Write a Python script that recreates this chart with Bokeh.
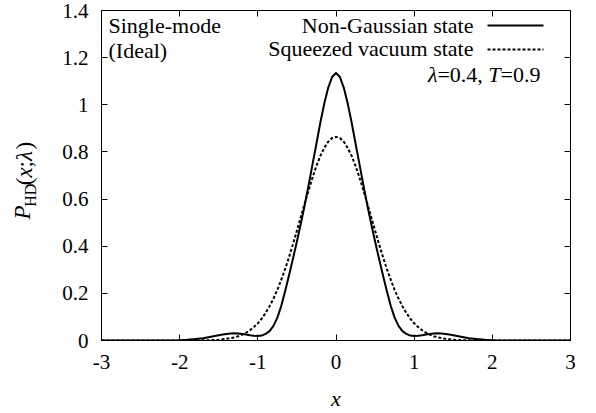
import math
from bokeh.plotting import figure
from bokeh.layouts import row
from bokeh.models import LinearAxis, FixedTicker, Label, Range1d
from bokeh.embed import file_html
from bokeh.resources import INLINE

# ---------------- data ----------------
x_vals = [-3.0, -2.5, -2.2, -2.0, -1.9, -1.8, -1.7, -1.6, -1.5, -1.45, -1.4, -1.35, -1.3,
          -1.25, -1.2, -1.15, -1.1, -1.05, -1.0, -0.95, -0.9, -0.85, -0.8, -0.75, -0.7,
          -0.65, -0.6, -0.55, -0.5, -0.45, -0.4, -0.35, -0.3, -0.25, -0.2, -0.15, -0.1,
          -0.05, 0.0, 0.05, 0.1, 0.15, 0.2, 0.25, 0.3, 0.35, 0.4, 0.45, 0.5, 0.55, 0.6,
          0.65, 0.7, 0.75, 0.8, 0.85, 0.9, 0.95, 1.0, 1.05, 1.1, 1.15, 1.2, 1.25, 1.3,
          1.35, 1.4, 1.45, 1.5, 1.6, 1.7, 1.8, 1.9, 2.0, 2.2, 2.5, 3.0]

non_gaussian = [0.0, 0.0, 0.0003, 0.0015, 0.003, 0.006, 0.010, 0.016, 0.022, 0.025, 0.028,
                0.030, 0.031, 0.030, 0.028, 0.025, 0.022, 0.020, 0.019, 0.021, 0.028, 0.040,
                0.062, 0.097, 0.147, 0.210, 0.278, 0.348, 0.420, 0.495, 0.575, 0.660, 0.748,
                0.836, 0.925, 1.005, 1.072, 1.118, 1.135, 1.118, 1.072, 1.005, 0.925, 0.836,
                0.748, 0.660, 0.575, 0.495, 0.420, 0.348, 0.278, 0.210, 0.147, 0.097, 0.062,
                0.040, 0.028, 0.021, 0.019, 0.020, 0.022, 0.025, 0.028, 0.030, 0.031, 0.030,
                0.028, 0.025, 0.022, 0.016, 0.010, 0.006, 0.003, 0.0015, 0.0003, 0.0, 0.0]

squeezed_vacuum = [0.0, 0.0, 0.0, 0.0, 0.0001, 0.0003, 0.0007, 0.0016, 0.003, 0.005, 0.007,
                   0.010, 0.013, 0.018, 0.025, 0.033, 0.044, 0.057, 0.073, 0.093, 0.117,
                   0.145, 0.178, 0.215, 0.258, 0.304, 0.355, 0.409, 0.466, 0.524, 0.582,
                   0.638, 0.692, 0.741, 0.783, 0.817, 0.843, 0.859, 0.864, 0.859, 0.843,
                   0.817, 0.783, 0.741, 0.692, 0.638, 0.582, 0.524, 0.466, 0.409, 0.355,
                   0.304, 0.258, 0.215, 0.178, 0.145, 0.117, 0.093, 0.073, 0.057, 0.044,
                   0.033, 0.025, 0.018, 0.013, 0.010, 0.007, 0.005, 0.003, 0.0016, 0.0007,
                   0.0003, 0.0001, 0.0, 0.0, 0.0, 0.0]

x_ticks = [-3, -2, -1, 0, 1, 2, 3]
x_tick_labels = ["-3", "-2", "-1", "0", "1", "2", "3"]
y_ticks = [0, 0.2, 0.4, 0.6, 0.8, 1, 1.2, 1.4]
y_tick_labels = ["0", "0.2", "0.4", "0.6", "0.8", "1", "1.2", "1.4"]

series_names = ["Non-Gaussian state", "Squeezed vacuum state"]
corner_text = ["Single-mode", "(Ideal)"]

# ---------------- layout (page pixels) ----------------
FONT = "Liberation Serif"
FS_TICK = 21
FS = 22
PAGE_W, PAGE_H = 596, 413
LW = 50                                   # width of the strip holding the y label
FL, FR, FT, FB = 101, 570, 10, 341        # frame edges in page pixels
X0, X1, Y0, Y1 = -3, 3, 0, 1.4

p = figure(width=PAGE_W - LW, height=PAGE_H, output_backend="svg", toolbar_location=None,
           x_range=Range1d(X0, X1), y_range=Range1d(Y0, Y1),
           min_border_left=FL - LW, min_border_right=PAGE_W - FR,
           min_border_top=FT, min_border_bottom=PAGE_H - FB)
p.grid.visible = False
p.outline_line_color = None
p.background_fill_color = "white"
p.border_fill_color = "white"


def style_axis(ax, ticks, labels, show_labels, standoff):
    ax.ticker = FixedTicker(ticks=ticks)
    ax.axis_line_color = "black"
    ax.axis_line_width = 1
    ax.major_tick_line_color = "black"
    ax.major_tick_line_width = 1
    ax.major_tick_in = 6
    ax.major_tick_out = 0
    ax.minor_tick_line_color = None
    ax.major_label_text_font = FONT
    if show_labels:
        ax.major_label_text_color = "black"
        ax.major_label_text_font_size = f"{FS_TICK}px"
        ax.major_label_overrides = {t: l for t, l in zip(ticks, labels)}
        ax.major_label_standoff = standoff
    else:
        ax.major_label_text_color = None
        ax.major_label_text_font_size = "0px"
        ax.major_label_standoff = 0


style_axis(p.xaxis[0], x_ticks, x_tick_labels, True, 14)
style_axis(p.yaxis[0], y_ticks, y_tick_labels, True, 13)
p.xaxis[0].axis_label = "x"
p.xaxis[0].axis_label_text_font = FONT
p.xaxis[0].axis_label_text_font_size = f"{FS}px"
p.xaxis[0].axis_label_text_font_style = "italic"
p.xaxis[0].axis_label_text_color = "black"
p.xaxis[0].axis_label_standoff = 14

ax_top = LinearAxis()
style_axis(ax_top, x_ticks, x_tick_labels, False, 0)
p.add_layout(ax_top, "above")
ax_right = LinearAxis()
style_axis(ax_right, y_ticks, y_tick_labels, False, 0)
p.add_layout(ax_right, "right")

# curves
p.line(x_vals, non_gaussian, line_color="black", line_width=2, line_join="round")
p.line(x_vals, squeezed_vacuum, line_color="black", line_width=2, line_dash="3 2",
       line_join="round")


# page pixel -> frame-relative screen / data coordinates
def sx(px):
    return px - FL
def sy(py):
    return FB - py
def dx(px):
    return X0 + (px - FL) * (X1 - X0) / (FR - FL)
def dy(py):
    return Y0 + (FB - py) * (Y1 - Y0) / (FB - FT)


# legend samples (line to the right of the text)
p.line([dx(487), dx(543)], [dy(25), dy(25)], line_color="black", line_width=2)
p.line([dx(487), dx(543)], [dy(49), dy(49)], line_color="black", line_width=2,
       line_dash="3 2")


def lab(fig, text, x, y, align="left", style="normal", size=FS, angle=0.0):
    fig.add_layout(Label(x=x, y=y, x_units="screen", y_units="screen",
                         text=text, text_font=FONT, text_font_size=f"{size}px",
                         text_font_style=style, text_align=align,
                         text_baseline="alphabetic", text_color="black", angle=angle))


# anchors below are the visual text centres (as rendered) in page pixels
lab(p, series_names[0], sx(473), sy(25.7), align="right")
lab(p, series_names[1], sx(473), sy(48.5), align="right")
lab(p, corner_text[0], sx(108), sy(26.3))
lab(p, corner_text[1], sx(108), sy(50.5))

# "λ=0.4, T=0.9" right-aligned at 540, pieces placed right-to-left
pieces = [("=0.9", "normal", 1.814), ("T", "italic", 0.556 + 0.25), ("=0.4,", "normal", 2.064),
          ("λ", "italic", 0.55)]
xr = 540
for t, st, w in pieces:
    lab(p, t, sx(xr), sy(75), align="right", style=st)
    xr -= w * FS

# ---------------- y-label strip (frame aligned with the main plot) ----------------
left = figure(width=LW, height=PAGE_H, output_backend="svg", toolbar_location=None,
              x_range=Range1d(0, 1), y_range=Range1d(0, 1),
              x_axis_type=None, y_axis_type=None,
              min_border_left=0, min_border_right=0, min_border_top=0, min_border_bottom=0)
left.grid.visible = False
left.outline_line_color = None
left.background_fill_color = "white"
left.border_fill_color = "white"

FS_Y, FS_SUB = 23, 16
yl = [("P", "italic", FS_Y, 0.55, 22), ("HD", "normal", FS_SUB, 1.35, 30),
      ("(", "normal", FS_Y, 0.333, 24), ("x", "italic", FS_Y, 0.444, 24),
      (";", "normal", FS_Y, 0.278, 24), ("λ", "italic", FS_Y, 0.5, 24),
      (")", "normal", FS_Y, 0.333, 24)]
ypos = 220
for t, st, sz, w, cx in yl:
    lab(left, t, cx, FB - ypos, style=st, size=sz, angle=math.pi / 2)
    ypos -= w * sz

layout = row(left, p)
open("out.html", "w").write(file_html(layout, INLINE))
